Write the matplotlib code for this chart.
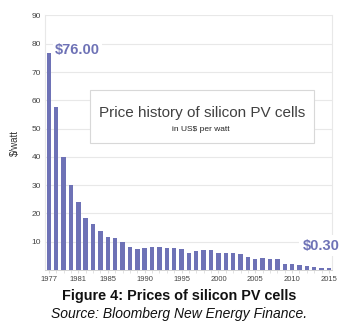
import matplotlib
matplotlib.use("Agg")
import matplotlib.pyplot as plt
from matplotlib.patches import Rectangle

plt.rcParams['font.family'] = ['Liberation Sans', 'DejaVu Sans']

years = list(range(1977, 2016))
prices = [76.7, 57.7, 40.0, 30.0, 24.0, 18.5, 16.2, 13.9, 11.8, 11.2, 10.0,
          8.0, 7.3, 7.8, 8.0, 8.0, 7.8, 7.8, 7.3, 5.9, 6.6, 6.9, 6.9, 5.9,
          5.9, 5.9, 5.8, 4.7, 4.0, 4.3, 4.0, 4.0, 2.2, 2.2, 1.9, 1.3, 0.9,
          0.7, 0.6]
xtick_years = [1977, 1981, 1985, 1990, 1995, 2000, 2005, 2010, 2015]
yticks = [10, 20, 30, 40, 50, 60, 70, 80, 90]
first_label = "$76.00"
last_label = "$0.30"

bar_color = '#6e72b6'
grid_color = '#e8e8e8'

fig = plt.figure(figsize=(3.58, 3.29), dpi=100)
ax = fig.add_axes([0.1257, 0.1793, 0.8017, 0.7736])

ax.bar(years, prices, width=0.6, color=bar_color, zorder=3)
ax.set_xlim(1976.48, 2015.41)
ax.set_ylim(0, 90)
ax.set_yticks(yticks)
ax.set_xticks(xtick_years)
ax.set_xticks(years, minor=True)
ax.tick_params(axis='y', length=0, labelsize=6, labelcolor='#444444', pad=3)
ax.tick_params(axis='x', which='major', length=2, color='#dddddd', labelsize=5.5, labelcolor='#444444', pad=2.5)
ax.tick_params(axis='x', which='minor', length=2, color='#dddddd')
ax.grid(axis='y', color=grid_color, linewidth=0.8, zorder=0)
for s in ['left', 'right']:
    ax.spines[s].set_color(grid_color)
    ax.spines[s].set_linewidth(0.8)
ax.spines['top'].set_visible(False)
ax.spines['bottom'].set_color('#cccccc')
ax.spines['bottom'].set_linewidth(0.6)
ax.set_ylabel('$/watt', fontsize=7, color='#333333', labelpad=8)

ax.text(1977.8, 77.7, first_label, fontsize=10.5, fontweight='bold', color=bar_color,
        va='center', ha='left', zorder=5,
        bbox=dict(facecolor='white', edgecolor='none', pad=1.5))
ax.text(2011.4, 8.5, last_label, fontsize=10.5, fontweight='bold', color=bar_color,
        va='center', ha='left', zorder=5, clip_on=False,
        bbox=dict(facecolor='white', edgecolor='none', pad=2.5))

box = Rectangle((0.157, 0.499), 0.78, 0.208, transform=ax.transAxes,
                facecolor='white', edgecolor='#d8d8d8', linewidth=0.8, zorder=4)
ax.add_patch(box)
ax.text(0.547, 0.617, 'Price history of silicon PV cells', transform=ax.transAxes,
        fontsize=11, color='#404040', ha='center', va='center', zorder=5)
ax.text(0.543, 0.551, 'in US$ per watt', transform=ax.transAxes,
        fontsize=6, color='#222222', ha='center', va='center', zorder=5)

fig.text(0.5, 1 - 296/329, 'Figure 4: Prices of silicon PV cells', fontsize=10.4,
         fontweight='bold', ha='center', va='center', color='#111111')
fig.text(0.5, 1 - 314/329, 'Source: Bloomberg New Energy Finance.', fontsize=10,
         fontstyle='italic', ha='center', va='center', color='#111111')

fig.savefig('out.png', dpi=100)
